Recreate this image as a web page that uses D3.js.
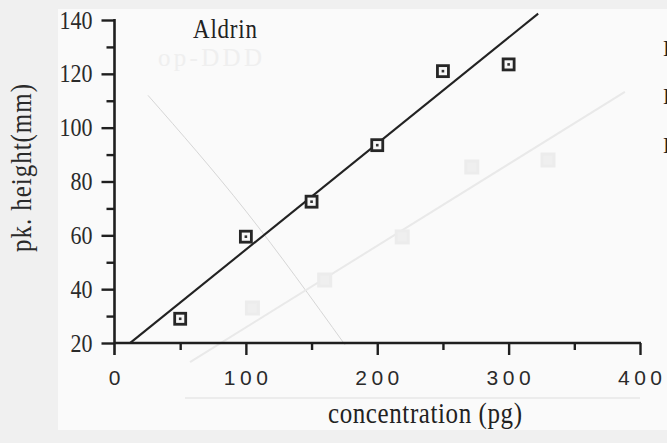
<!DOCTYPE html>
<html>
<head>
<meta charset="utf-8">
<script src="https://cdn.jsdelivr.net/npm/d3@7"></script>
<style>
  body { margin: 0; background: #f1f1f1; }
  svg { display: block; }
  .serif { font-family: "Liberation Serif", "Times New Roman", Times, serif; }
  .sans { font-family: "Liberation Sans", Arial, Helvetica, sans-serif; }
</style>
</head>
<body>
<svg id="chart" width="667" height="443"></svg>
<script>
// Aldrin calibration: detector peak height against injected amount
const concentration = [50, 100, 150, 200, 250, 300];   // pg
const peakHeight    = [29, 59.5, 72.5, 93.5, 121, 123.5]; // mm

// least-squares line drawn across the plot
const fitSlope = 0.394;
const fitIntercept = 15.3;
const fitRange = [12, 322.5];

const xTicks = [0, 100, 200, 300, 400];
const xMinorTicks = [50, 150, 250, 350];
const yTicks = [20, 40, 60, 80, 100, 120, 140];
const yMinorTicks = [30, 50, 70, 90, 110, 130];

// faint show-through of the calibration plot printed on the reverse side
const reverseLine = [[57.5, 12.9], [388.5, 113.3]];
const reversePoints = [[105, 33], [160, 43.4], [219, 59.4], [272, 85.4], [330, 88]];
const reverseCurve = [[25.5, 112], [100, 69], [175.5, 19.3]];
const reverseTitle = "op-DDD";

const svg = d3.select("#chart");
const W = 667, H = 443;

// paper
svg.append("rect").attr("width", W).attr("height", H).attr("fill", "#f0f0f0");
svg.append("rect").attr("x", 58).attr("y", 9).attr("width", W - 58).attr("height", 421)
  .attr("fill", "#fafafa");

const x = d3.scaleLinear().domain([0, 400]).range([114.5, 640]);
const y = d3.scaleLinear().domain([20, 140]).range([343, 20]);

const ink = "#1f1f1f";
const tall = 1.15; // the typeset lettering is narrow and tall

// ---- reverse-side show-through ----
const ghost = svg.append("g").attr("class", "ghost");
ghost.append("path")
  .datum(reverseCurve)
  .attr("d", d3.line().x(d => x(d[0])).y(d => y(d[1])).curve(d3.curveMonotoneX))
  .attr("fill", "none").attr("stroke", "#d6d6d6").attr("stroke-width", 1);
ghost.append("path")
  .datum(reverseLine)
  .attr("d", d3.line().x(d => x(d[0])).y(d => y(d[1])))
  .attr("fill", "none").attr("stroke", "#e9e9e9").attr("stroke-width", 2);
ghost.selectAll("rect.rp").data(reversePoints).join("rect")
  .attr("class", "rp")
  .attr("x", d => x(d[0]) - 6).attr("y", d => y(d[1]) - 6)
  .attr("width", 12).attr("height", 12)
  .attr("fill", "#efefef").attr("stroke", "#ececec").attr("stroke-width", 3);
ghost.append("text")
  .attr("class", "serif")
  .attr("x", 158).attr("y", 66)
  .attr("font-size", 25)
  .attr("textLength", 104)
  .attr("fill", "#efefef")
  .text(reverseTitle);
ghost.append("line")
  .attr("x1", 185).attr("x2", 640).attr("y1", 398).attr("y2", 398)
  .attr("stroke", "#ececec").attr("stroke-width", 2);

// ---- axes ----
const yAxis = svg.append("g").attr("transform", `translate(${x(0)},0)`)
  .call(d3.axisLeft(y).tickValues(yTicks).tickSize(13).tickPadding(9).tickFormat(d3.format("d")));
const yMinor = svg.append("g").attr("transform", `translate(${x(0)},0)`)
  .call(d3.axisLeft(y).tickValues(yMinorTicks).tickSize(8).tickFormat(""));

const xAxis = svg.append("g").attr("transform", `translate(0,${y(20)})`)
  .call(d3.axisBottom(x).tickValues(xTicks.filter(d => d > 0)).tickSize(12).tickFormat(""));
const xMinor = svg.append("g").attr("transform", `translate(0,${y(20)})`)
  .call(d3.axisBottom(x).tickValues(xMinorTicks).tickSize(7).tickFormat(""));

[yAxis, yMinor, xAxis, xMinor].forEach(g => {
  g.attr("font-family", null).attr("font-size", null);
  g.select(".domain").remove();
  g.selectAll(".tick line").attr("stroke", ink).attr("stroke-width", 2.4);
});

yAxis.selectAll(".tick text")
  .attr("class", "serif")
  .attr("font-size", 22).attr("fill", "#2a2a2a")
  .attr("x", null).attr("dy", null)
  .attr("transform", `translate(-22,8) scale(1,${tall})`);

// axis lines: the vertical one runs a little past the baseline
svg.append("line")
  .attr("x1", x(0)).attr("x2", x(0)).attr("y1", y(140) - 1).attr("y2", y(20) + 12)
  .attr("stroke", ink).attr("stroke-width", 2.6);
svg.append("line")
  .attr("x1", x(0)).attr("x2", x(400) + 1).attr("y1", y(20)).attr("y2", y(20))
  .attr("stroke", ink).attr("stroke-width", 2.6);

// x tick labels (spaced sans digits)
const spacing = 4.5;
svg.append("g").selectAll("text").data(xTicks).join("text")
  .attr("class", "sans")
  .attr("x", d => x(d) + spacing / 2)
  .attr("y", 385)
  .attr("text-anchor", "middle")
  .attr("font-size", 21)
  .attr("letter-spacing", spacing + "px")
  .attr("fill", "#2a2a2a")
  .text(d => d);

// axis titles
svg.append("text")
  .attr("class", "serif")
  .attr("transform", `translate(425,423) scale(1,${tall})`)
  .attr("text-anchor", "middle")
  .attr("font-size", 25)
  .attr("textLength", 194)
  .attr("fill", "#222")
  .text("concentration (pg)");

svg.append("text")
  .attr("class", "serif")
  .attr("transform", `translate(31,168) rotate(-90) scale(1,${tall})`)
  .attr("text-anchor", "middle")
  .attr("font-size", 25)
  .attr("textLength", 168)
  .attr("fill", "#2a2a2a")
  .text("pk. height(mm)");

svg.append("text")
  .attr("class", "serif")
  .attr("transform", `translate(193,38) scale(1,${tall})`)
  .attr("font-size", 23)
  .attr("textLength", 64)
  .attr("fill", "#222")
  .text("Aldrin");

// ---- regression line ----
svg.append("path")
  .datum(fitRange.map(c => [c, fitIntercept + fitSlope * c]))
  .attr("d", d3.line().x(d => x(d[0])).y(d => y(d[1])))
  .attr("fill", "none").attr("stroke", "#222").attr("stroke-width", 2.1);

// ---- measured points ----
const pts = svg.append("g").selectAll("g").data(concentration.map((c, i) => [c, peakHeight[i]]))
  .join("g")
  .attr("transform", d => `translate(${x(d[0])},${y(d[1])})`);
pts.append("rect")
  .attr("x", -5.5).attr("y", -5.5).attr("width", 11).attr("height", 11)
  .attr("fill", "#f7f7f7").attr("stroke", "#262626").attr("stroke-width", 2.8);
pts.append("rect")
  .attr("x", -1.3).attr("y", -1.3).attr("width", 2.6).attr("height", 2.6)
  .attr("fill", "#333");

// lettering from the neighbouring panel, cut by the page edge
svg.append("g").selectAll("text").data([56, 104, 153]).join("text")
  .attr("class", "serif")
  .attr("x", 663).attr("y", d => d)
  .attr("font-size", 23)
  .attr("fill", "#222")
  .text("D");
</script>
</body>
</html>
